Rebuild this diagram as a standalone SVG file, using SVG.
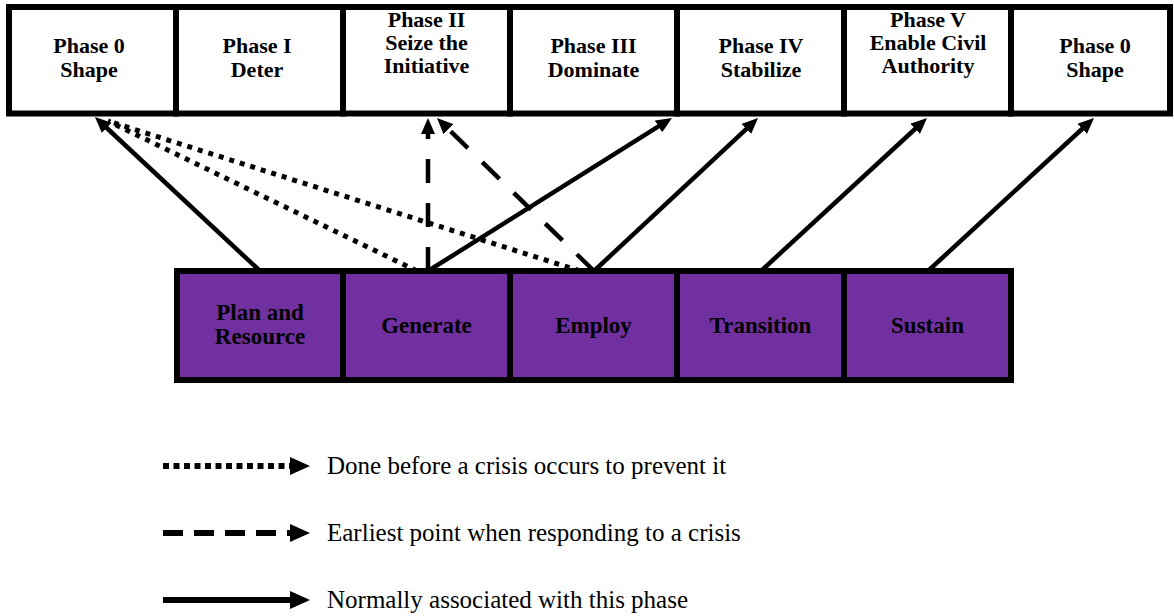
<svg xmlns="http://www.w3.org/2000/svg" width="1174" height="616" viewBox="0 0 1174 616">
<defs>
<style>
.phase rect{fill:#ffffff;stroke:#000;stroke-width:6}
.proc rect{fill:#7030A0;stroke:#000;stroke-width:6}
text{font-family:"Liberation Serif","Times New Roman",serif;font-weight:bold;font-size:22px;text-anchor:middle;fill:#000}
.proc text{font-size:23px}
.legend text{font-family:"Liberation Serif","Times New Roman",serif;font-weight:normal;text-anchor:start;font-size:25px}
.ln{stroke:#000;stroke-width:4.5;fill:none}
.dash{stroke-dasharray:24 20}
.dot{stroke-dasharray:5 6;stroke-width:5}
.lg{stroke:#000;stroke-width:6;fill:none}
.lgdash{stroke-dasharray:20 11}
.lgdot{stroke-dasharray:6 4.5}
</style>
<marker id="ah" viewBox="0 0 16 14" refX="2" refY="7" markerWidth="16" markerHeight="14" markerUnits="userSpaceOnUse" orient="auto"><path d="M0,0 L16,7 L0,14 Z" fill="#000"/></marker>
<marker id="ahl" viewBox="0 0 20 18" refX="2" refY="9" markerWidth="20" markerHeight="18" markerUnits="userSpaceOnUse" orient="auto"><path d="M0,0 L20,9 L0,18 Z" fill="#000"/></marker>
</defs>
<rect width="1174" height="616" fill="#fff"/>
<g id="phases" class="phase">
<g id="phase0a"><rect x="9" y="7" width="167" height="106.5"/><text x="89" y="53">Phase 0</text><text x="89" y="77">Shape</text></g>
<g id="phase1"><rect x="176" y="7" width="167" height="106.5"/><text x="257" y="53">Phase I</text><text x="257" y="77">Deter</text></g>
<g id="phase2"><rect x="343" y="7" width="167" height="106.5"/><text x="426.5" y="27">Phase II</text><text x="426.5" y="50">Seize the</text><text x="426.5" y="73">Initiative</text></g>
<g id="phase3"><rect x="510" y="7" width="167" height="106.5"/><text x="593.5" y="53">Phase III</text><text x="593.5" y="77">Dominate</text></g>
<g id="phase4"><rect x="677" y="7" width="167" height="106.5"/><text x="761" y="53">Phase IV</text><text x="761" y="77">Stabilize</text></g>
<g id="phase5"><rect x="844" y="7" width="167" height="106.5"/><text x="928" y="27">Phase V</text><text x="928" y="50">Enable Civil</text><text x="928" y="73">Authority</text></g>
<g id="phase0b"><rect x="1011" y="7" width="159" height="106.5"/><text x="1095" y="53">Phase 0</text><text x="1095" y="77">Shape</text></g>
</g>
<g id="processes" class="proc">
<g id="plan"><rect x="177" y="271" width="166" height="109"/><text x="260" y="320">Plan and</text><text x="260" y="344">Resource</text></g>
<g id="generate"><rect x="343" y="271" width="167" height="109"/><text x="426.5" y="333">Generate</text></g>
<g id="employ"><rect x="510" y="271" width="167" height="109"/><text x="593.5" y="333">Employ</text></g>
<g id="transition"><rect x="677" y="271" width="167" height="109"/><text x="760.5" y="333">Transition</text></g>
<g id="sustain"><rect x="844" y="271" width="167" height="109"/><text x="927.5" y="333">Sustain</text></g>
</g>
<g id="connectors">
<line class="ln dot" x1="417" y1="271" x2="108" y2="121"/>
<line class="ln dot" x1="580" y1="271" x2="108" y2="121"/>
<line class="ln dash" x1="428" y1="271" x2="428" y2="132" marker-end="url(#ah)"/>
<line class="ln dash" x1="594" y1="271" x2="447" y2="127.8" marker-end="url(#ah)"/>
<line class="ln" x1="260" y1="271" x2="105.2" y2="126.5" marker-end="url(#ah)"/>
<line class="ln" x1="428" y1="271" x2="660.1" y2="125.4" marker-end="url(#ah)"/>
<line class="ln" x1="594" y1="271" x2="747.8" y2="127.6" marker-end="url(#ah)"/>
<line class="ln" x1="761" y1="271" x2="916.7" y2="127.5" marker-end="url(#ah)"/>
<line class="ln" x1="928" y1="271" x2="1083.7" y2="127.5" marker-end="url(#ah)"/>
</g>
<g id="legend" class="legend">
<line class="lg lgdot" x1="163" y1="466" x2="292" y2="466" marker-end="url(#ahl)"/>
<text x="327" y="474">Done before a crisis occurs to prevent it</text>
<line class="lg lgdash" x1="163" y1="533" x2="292" y2="533" marker-end="url(#ahl)"/>
<text x="327" y="541">Earliest point when responding to a crisis</text>
<line class="lg" x1="163" y1="600" x2="292" y2="600" marker-end="url(#ahl)"/>
<text x="327" y="608">Normally associated with this phase</text>
</g>
</svg>
